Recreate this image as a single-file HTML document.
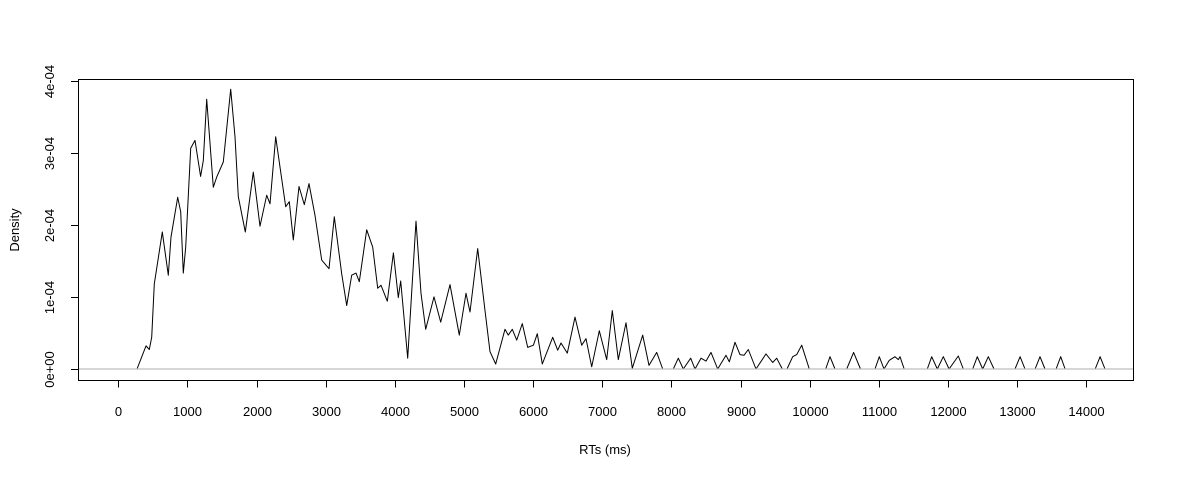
<!DOCTYPE html>
<html><head><meta charset="utf-8">
<style>
html,body{margin:0;padding:0;background:#fff;}
svg{display:block;font-family:"Liberation Sans",Arial,sans-serif;}
</style></head>
<body>
<svg id="chart" width="1180" height="478" viewBox="0 0 1180 478" xmlns="http://www.w3.org/2000/svg">
<rect x="78.5" y="79.5" width="1055" height="301" fill="none" stroke="#000" stroke-width="1"/>
<g id="xaxis"></g>
<g id="yaxis"></g>
<text x="605" y="454" font-size="13" text-anchor="middle">RTs (ms)</text>
<text x="0" y="0" font-size="13" text-anchor="middle" transform="translate(19,230) rotate(-90)">Density</text>
<g id="plot"></g>
</svg>
<script>
const xTicks = [0,1000,2000,3000,4000,5000,6000,7000,8000,9000,10000,11000,12000,13000,14000];
const yTicks = [0,1e-4,2e-4,3e-4,4e-4];
const yTickLabels = ["0e+00","1e-04","2e-04","3e-04","4e-04"];
const rtValues = [270,401,449,483,521,636,723,762,859,902,940,975,1047,1109,1191,1229,1278,1374,1423,1518,1626,1688,1736,1837,1953,2049,2146,2194,2276,2338,2421,2473,2531,2613,2690,2758,2845,2942,3048,3124,3231,3303,3376,3438,3485,3593,3679,3752,3800,3890,3978,4050,4084,4185,4305,4378,4446,4566,4663,4798,4932,5029,5087,5198,5304,5376,5458,5593,5640,5698,5762,5843,5921,6003,6060,6132,6283,6355,6403,6494,6605,6702,6764,6847,6957,7064,7144,7232,7343,7434,7584,7676,7787,7874,8027,8099,8171,8278,8341,8428,8500,8572,8669,8789,8837,8919,8991,9049,9111,9223,9368,9465,9523,9603,9671,9754,9812,9884,9994,10231,10293,10365,10535,10634,10734,10944,11006,11074,11151,11233,11281,11305,11367,11700,11764,11845,11932,12015,12149,12221,12357,12424,12502,12583,12665,12969,13042,13114,13259,13330,13403,13563,13630,13693,14128,14199,14271];
const densityE4 = [0,0.32,0.27,0.44,1.18,1.90,1.30,1.83,2.38,2.18,1.33,1.69,3.06,3.17,2.67,2.89,3.74,2.52,2.66,2.87,3.88,3.22,2.39,1.90,2.73,1.98,2.41,2.29,3.22,2.80,2.25,2.32,1.79,2.53,2.28,2.57,2.13,1.51,1.39,2.11,1.32,0.88,1.30,1.33,1.21,1.93,1.69,1.12,1.16,0.94,1.61,0.99,1.22,0.15,2.05,1.05,0.55,1.00,0.65,1.17,0.47,1.05,0.79,1.67,0.81,0.24,0.07,0.55,0.47,0.55,0.40,0.63,0.30,0.33,0.49,0.07,0.44,0.26,0.36,0.22,0.72,0.33,0.42,0.03,0.53,0.13,0.81,0.13,0.64,0.01,0.47,0.05,0.23,0,0,0.15,0,0.15,0,0.15,0.11,0.23,0,0.19,0.10,0.37,0.20,0.19,0.27,0,0.21,0.09,0.15,0,0,0.17,0.20,0.33,0,0,0.17,0,0,0.23,0,0,0.17,0,0.12,0.17,0.13,0.17,0,0,0.17,0,0.17,0,0.18,0,0,0.17,0,0.17,0,0,0.17,0,0,0.17,0,0,0.17,0,0,0.17,0];

const NS = "http://www.w3.org/2000/svg";
function xScale(v){ return 118.3 + v * (1086.3 - 118.3) / 14000; }
function yScale(v){ return 369 - v * (369 - 80.5) / 4e-4; }
function mk(tag, attrs, parent){
  const e = document.createElementNS(NS, tag);
  for (const k in attrs) e.setAttribute(k, attrs[k]);
  parent.appendChild(e);
  return e;
}
const xg = document.getElementById('xaxis');
const yg = document.getElementById('yaxis');
const pg = document.getElementById('plot');

const xl = mk('line', {x1: xScale(xTicks[0]), x2: xScale(xTicks[xTicks.length-1]), y1: 380.5, y2: 380.5, stroke: '#000'}, xg);


xTicks.forEach(t => {
  const x = Math.round(xScale(t)) + 0.5;
  const tk = mk('line', {x1: x, x2: x, y1: 380.5, y2: 387.5, stroke: '#000'}, xg);
  
  
  const lb = mk('text', {x: x, y: 416, 'font-size': 13, 'text-anchor': 'middle'}, xg);
  lb.textContent = String(t);
  
  
});

yTicks.forEach((t, i) => {
  const y = Math.round(yScale(t)) + 0.5;
  const tk = mk('line', {x1: 71, x2: 78.5, y1: y, y2: y, stroke: '#000'}, yg);
  
  
  const lb = mk('text', {x: 0, y: 0, 'font-size': 13, 'text-anchor': 'middle', transform: 'translate(54,' + y + ') rotate(-90)'}, yg);
  lb.textContent = yTickLabels[i];
  
  
});

let d = '';
rtValues.forEach((v, i) => {
  d += (i ? 'L' : 'M') + xScale(v).toFixed(1) + ',' + yScale(densityE4[i] * 1e-4).toFixed(1);
});
const path = mk('path', {d: d, fill: 'none', stroke: '#000', 'stroke-width': 1, 'stroke-linejoin': 'round'}, pg);



const zl = mk('line', {x1: 79, x2: 1133, y1: yScale(0), y2: yScale(0), stroke: '#bebebe', 'stroke-width': 1.3}, pg);


</script>
</body></html>
